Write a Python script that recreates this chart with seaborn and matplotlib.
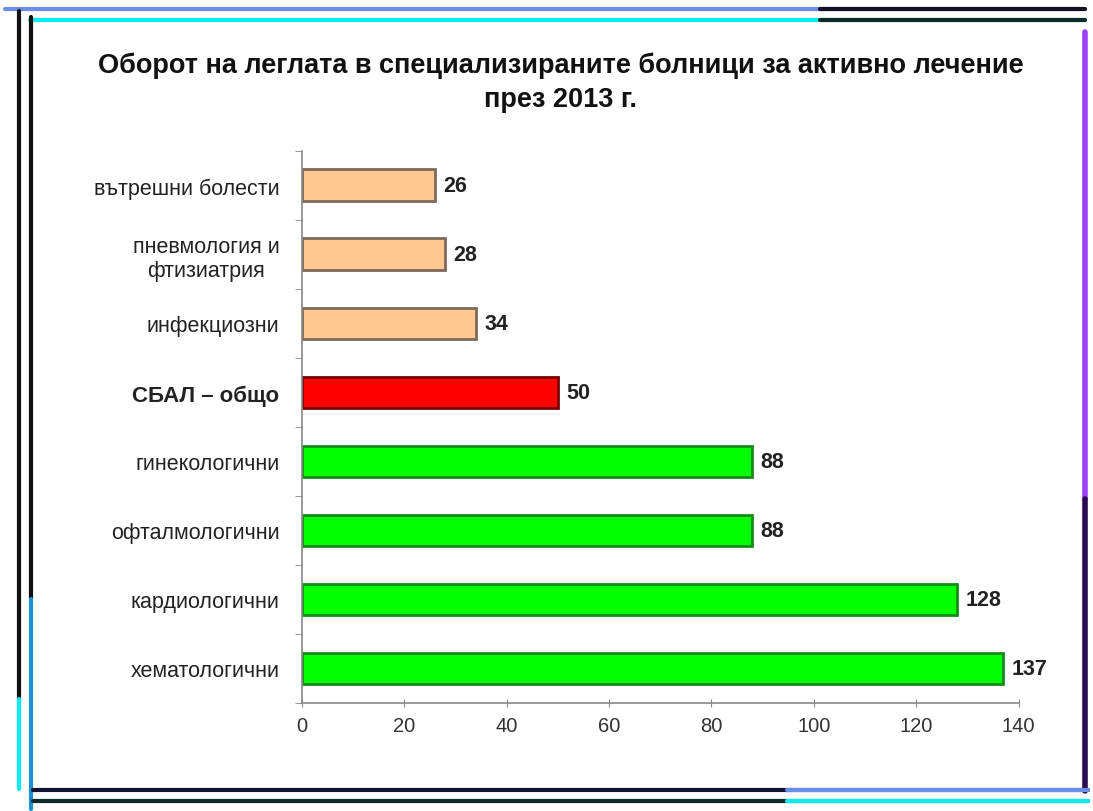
import numpy as np
import pandas as pd
import matplotlib.pyplot as plt
from matplotlib.lines import Line2D
import seaborn as sns

# data
categories = ['вътрешни болести', 'пневмология и\nфтизиатрия', 'инфекциозни', 'СБАЛ – общо',
              'гинекологични', 'офталмологични', 'кардиологични', 'хематологични']
values = [26, 28, 34, 50, 88, 88, 128, 137]
bar_colors = ['#FFC891', '#FFC891', '#FFC891', '#FF0000', '#00FF00', '#00FF00', '#00FF00', '#00FF00']
edge_colors = ['#7d6a58', '#7d6a58', '#7d6a58', '#7a0000', '#178a17', '#178a17', '#178a17', '#178a17']
x_ticks = [0, 20, 40, 60, 80, 100, 120, 140]

sns.set_style('white')
plt.rcParams['font.family'] = ['Liberation Sans', 'DejaVu Sans']

df = pd.DataFrame({'cat': categories, 'val': values})

fig = plt.figure(figsize=(10.93, 8.12), dpi=100)
ax = fig.add_axes([0.276, 0.133, 0.656, 0.68])

sns.barplot(data=df, x='val', y='cat', hue='cat', palette=bar_colors, legend=False,
            orient='h', width=0.46, ax=ax, saturation=1)
for patch, ec in zip(ax.patches, edge_colors):
    patch.set_edgecolor(ec)
    patch.set_linewidth(2)

for cont in ax.containers:
    ax.bar_label(cont, fmt='%d', padding=6, fontsize=15.5, fontweight='bold', color='#222222')

ax.set_xlim(0, 140)
ax.set_ylim(7.5, -0.5)
ax.set_xticks(x_ticks)
ax.set_xlabel('')
ax.set_ylabel('')
ax.tick_params(axis='x', bottom=True, labelsize=14.5, length=6, direction='inout', color='#888888',
               labelcolor='#333333', pad=6)
ax.tick_params(axis='y', which='major', left=False, labelsize=15.5, length=0, pad=16, labelcolor='#222222')
ax.set_yticks(np.arange(-0.5, 8, 1), minor=True)
ax.tick_params(axis='y', which='minor', left=True, length=5, color='#888888', direction='out')
for lbl in ax.get_yticklabels():
    lbl.set_multialignment('center')
    if lbl.get_text().startswith('СБАЛ'):
        lbl.set_fontweight('bold')
        lbl.set_fontsize(16)

sns.despine(ax=ax)
for s in ['left', 'bottom']:
    ax.spines[s].set_color('#888888')
    ax.spines[s].set_linewidth(1.2)

fig.text(0.513, 0.898, 'Оборот на леглата в специализираните болници за активно лечение\nпрез 2013 г.',
         ha='center', va='center', fontsize=19.5, fontweight='bold', linespacing=1.4, color='#111111')

# decorative frame lines (figure coordinates)
def frame_line(x, y, color, lw):
    fig.add_artist(Line2D(x, y, color=color, lw=lw, transform=fig.transFigure))

H, W = 812, 1093
frame_line([0.005, 0.993], [1 - 10 / H] * 2, '#6a8ee8', 3)
frame_line([0.75, 0.993], [1 - 10 / H] * 2, '#111122', 3)
frame_line([30 / W, 0.993], [1 - 21 / H] * 2, '#00f0f0', 3)
frame_line([0.75, 0.993], [1 - 21 / H] * 2, '#0d2a2a', 3)
frame_line([19 / W] * 2, [1 - 12 / H, 1 - 700 / H], '#111111', 3)
frame_line([31 / W] * 2, [1 - 18 / H, 1 - 600 / H], '#111111', 3)
frame_line([31 / W] * 2, [1 - 600 / H, 1 - 810 / H], '#1a90d0', 3)
frame_line([19 / W] * 2, [1 - 700 / H, 1 - 790 / H], '#00eeff', 3)
frame_line([1085 / W] * 2, [1 - 33 / H, 1 - 500 / H], '#9b40ff', 4)
frame_line([1085 / W] * 2, [1 - 500 / H, 1 - 792 / H], '#2a0a50', 4)
frame_line([33 / W, 0.995], [1 - 791 / H] * 2, '#111133', 3)
frame_line([33 / W, 0.995], [1 - 802 / H] * 2, '#0f2a2a', 3)
frame_line([0.72, 0.995], [1 - 791 / H] * 2, '#6a8ee8', 3)
frame_line([0.72, 0.995], [1 - 802 / H] * 2, '#00eeee', 3)

fig.savefig('out.png', dpi=100)
